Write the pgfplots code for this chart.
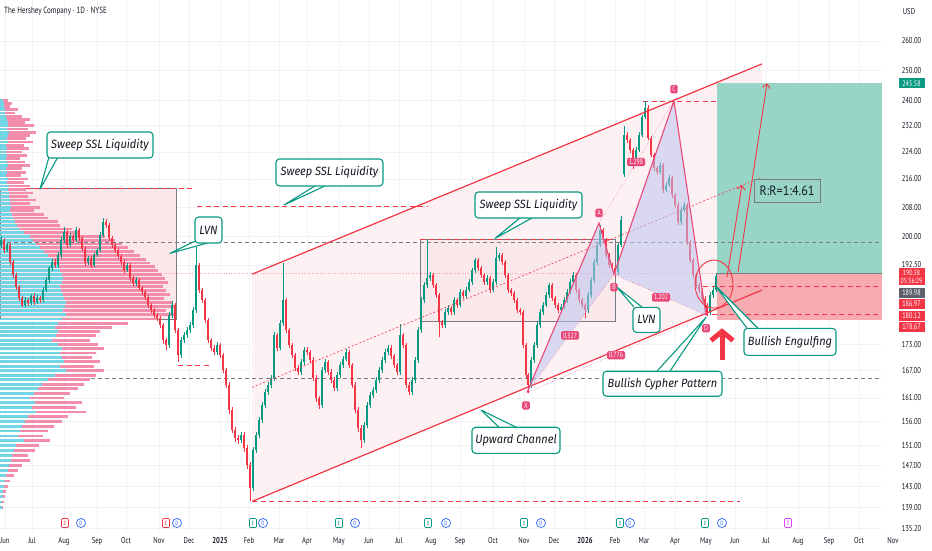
\documentclass[border=0pt]{standalone}
\usepackage{pgfplots}
\pgfplotsset{compat=1.18}
\usepackage{pgfplotstable}
\usetikzlibrary{arrows.meta}
\usepackage{fontspec}
\setmainfont{PT Sans}
\newfontfamily\tvfont[FakeStretch=0.78]{PT Sans}
\newfontfamily\rrfont[FakeStretch=0.9]{PT Sans}
\newfontfamily\callfont[FakeStretch=0.92]{Fira Sans}

\definecolor{upc}{RGB}{8,153,129}
\definecolor{dnc}{RGB}{242,54,69}
\definecolor{vpC}{RGB}{115,214,230}
\definecolor{vpP}{RGB}{244,140,172}
\definecolor{gridc}{RGB}{240,242,246}
\definecolor{grayd}{RGB}{120,123,134}
\definecolor{pat}{RGB}{233,72,120}
\definecolor{patfill}{RGB}{190,196,240}
\definecolor{callC}{RGB}{8,153,129}
\definecolor{tpC}{RGB}{152,213,198}
\definecolor{slC}{RGB}{247,170,175}
\definecolor{chanfill}{RGB}{253,241,243}
\definecolor{boxfill}{RGB}{251,230,234}
\definecolor{txt}{RGB}{19,23,34}
\definecolor{dotp}{RGB}{247,160,176}
\definecolor{evB}{RGB}{41,98,255}
\definecolor{evM}{RGB}{224,64,251}
\definecolor{lblgray}{RGB}{93,96,107}

% candles: x open high low close
\pgfplotstableread{
x o h l c
1 197.7 200.0 197.0 199.0
7 196.3 198.5 195.8 197.7
25 182.4 184.3 181.9 183.6
31 182.9 185.2 182.3 184.6
37 183.1 184.9 182.6 184.1
43 183.6 186.8 183.1 186.1
46 186.1 189.3 185.6 188.6
49 188.6 192.3 188.0 191.6
52 191.6 194.0 190.9 193.2
58 192.4 195.8 191.8 195.0
61 195.0 199.8 194.4 199.0
64 199.0 202.5 198.4 201.2
70 197.7 200.8 197.1 200.0
76 199.0 202.4 198.5 201.7
88 193.2 194.9 192.6 194.2
94 192.4 195.7 191.9 195.0
97 195.0 197.0 194.5 196.3
100 196.3 201.1 195.8 200.3
103 200.3 205.0 199.8 203.8
127 191.1 193.1 190.6 192.4
136 187.8 189.3 187.2 188.6
169 172.8 180.8 172.2 179.9
172 179.9 183.3 179.3 182.4
181 170.5 174.8 169.9 174.0
184 174.0 175.9 173.4 175.1
187 175.1 177.1 174.5 176.3
190 176.3 178.3 175.7 177.5
193 177.5 182.0 176.9 181.1
196 181.1 197.2 180.5 192.4
217 171.2 173.5 170.6 172.8
241 152.1 153.9 151.5 153.1
253 142.6 150.8 142.0 150.1
256 150.1 153.8 149.5 153.1
259 153.1 157.0 152.5 156.3
262 156.3 160.1 155.7 159.4
265 159.4 163.0 158.8 162.3
268 162.3 164.5 161.7 163.8
271 163.8 166.1 163.2 165.4
274 165.4 176.0 164.8 175.1
280 172.2 178.8 171.6 178.0
283 178.0 193.0 177.4 183.6
301 166.7 169.6 166.1 168.9
304 168.9 172.4 168.3 171.7
322 159.4 167.9 158.8 167.1
325 167.1 169.6 166.5 168.9
337 163.1 166.7 162.5 166.0
340 166.0 168.9 165.4 168.2
343 168.2 170.4 167.6 169.7
346 169.7 171.9 169.1 171.2
364 152.1 155.9 151.5 155.2
367 155.2 160.1 154.6 159.4
370 159.4 162.3 158.8 161.6
373 161.6 163.4 161.0 162.7
376 162.7 165.6 162.1 164.9
379 164.9 167.8 164.3 167.1
382 167.1 170.1 166.5 169.4
385 169.4 171.9 168.8 171.2
388 171.2 172.9 170.6 172.2
400 166.7 177.7 166.1 175.1
412 162.3 165.6 161.7 164.9
415 164.9 170.1 164.3 169.4
418 169.4 177.0 168.8 176.3
421 176.3 184.4 175.7 183.6
424 183.6 188.1 183.0 187.3
427 187.3 199.0 186.7 189.1
430 189.1 190.7 188.5 189.9
445 177.5 181.3 176.9 180.6
448 180.6 182.3 180.0 181.6
454 180.6 184.3 180.0 183.6
460 182.4 186.3 181.8 185.6
466 184.6 186.8 184.0 186.1
469 186.1 188.8 185.5 188.1
472 188.1 191.8 187.5 191.1
475 191.1 194.4 190.5 193.7
487 188.1 189.8 187.5 189.1
493 186.1 188.8 185.5 188.1
496 188.1 197.2 187.5 194.2
499 194.2 195.7 193.6 195.0
531 163.8 170.1 163.2 169.4
534 169.4 173.5 168.8 172.8
537 172.8 178.2 172.2 177.5
540 177.5 181.3 176.9 180.6
543 180.6 183.1 180.0 182.4
546 182.4 185.5 181.8 184.8
549 184.8 188.0 184.2 187.3
561 181.1 182.6 180.5 181.9
564 181.9 184.3 181.3 183.6
567 183.6 186.3 183.0 185.6
570 185.6 188.8 185.0 188.1
573 188.1 190.6 187.5 189.9
588 181.1 185.5 180.5 184.8
591 184.8 189.3 184.2 188.6
594 188.6 193.9 188.0 193.2
597 193.2 198.4 192.6 197.7
600 197.7 203.2 197.1 201.7
618 190.6 198.4 190.0 197.7
621 197.7 205.5 197.1 204.4
624 217.5 232.0 216.5 229.2
636 221.0 225.4 220.2 224.6
639 224.6 230.0 224.0 229.2
642 229.2 235.5 228.5 234.7
645 234.7 239.7 234.0 237.7
660 218.0 221.0 217.4 220.1
666 212.8 215.1 212.2 214.3
669 214.3 217.1 213.7 216.3
681 203.8 208.0 203.2 207.2
684 207.2 209.4 206.6 208.6
710 180.6 185.5 180.0 184.8
713 184.8 186.8 184.2 186.1
716 186.1 190.4 185.5 189.6
}\up

\pgfplotstableread{
x o h l c
4 199.0 199.6 195.6 196.3
10 197.7 198.2 192.5 193.2
13 193.2 193.8 189.2 189.9
16 189.9 190.5 186.0 186.8
19 186.8 187.3 183.4 184.1
22 184.1 184.7 181.8 182.4
28 183.6 184.2 182.2 182.9
34 184.6 185.3 182.5 183.1
40 184.1 184.7 182.9 183.6
55 193.2 194.1 191.7 192.4
67 201.2 201.8 197.0 197.7
73 200.0 200.7 198.3 199.0
79 201.7 202.2 198.9 199.5
82 199.5 200.1 196.2 196.8
85 196.8 197.4 192.3 193.2
91 194.2 194.8 191.6 192.4
106 203.8 204.6 202.2 203.0
109 203.0 203.6 198.9 199.5
112 199.5 200.2 197.0 197.7
115 197.7 198.3 195.6 196.3
118 196.3 196.9 194.0 194.7
121 194.7 195.4 192.6 193.2
124 193.2 193.8 190.4 191.1
130 192.4 192.9 188.5 189.1
133 189.1 189.7 187.1 187.8
139 188.6 189.1 186.0 186.6
142 186.6 187.2 184.9 185.6
145 185.6 186.2 183.7 184.3
148 184.3 184.9 181.7 182.4
151 182.4 183.0 180.5 181.1
154 181.1 181.7 179.2 179.9
157 179.9 180.5 178.5 179.2
160 179.2 179.8 176.8 177.5
163 177.5 178.1 173.2 174.0
166 174.0 174.6 171.7 172.8
175 182.4 183.0 175.6 176.3
178 176.3 176.9 169.0 170.5
199 192.4 193.0 185.4 186.1
202 186.1 186.7 182.9 183.6
205 183.6 184.2 178.0 178.7
208 178.7 179.3 173.3 174.0
211 174.0 174.6 171.5 172.2
214 172.2 172.8 170.5 171.2
220 172.8 173.4 169.8 170.5
223 170.5 171.1 166.4 167.1
226 167.1 167.7 163.1 163.8
229 163.8 164.4 157.6 158.4
232 158.4 159.0 153.5 154.2
235 154.2 154.8 151.8 152.5
238 152.5 153.1 151.3 152.1
244 153.1 153.7 149.8 150.5
247 150.5 151.1 146.4 147.1
250 147.1 147.7 140.1 142.6
277 175.1 175.7 171.5 172.2
286 183.6 184.2 175.6 176.3
289 176.3 176.9 172.1 172.8
292 172.8 173.4 169.8 170.5
295 170.5 171.1 166.9 167.6
298 167.6 168.2 166.0 166.7
307 171.7 172.3 170.5 171.2
310 171.2 171.8 168.7 169.4
313 169.4 170.0 164.7 165.4
316 165.4 166.0 160.2 160.9
319 160.9 161.5 158.7 159.4
328 168.9 169.5 166.0 166.7
331 166.7 167.3 164.2 164.9
334 164.9 165.5 162.4 163.1
349 171.2 171.8 167.5 168.2
352 168.2 168.8 163.1 163.8
355 163.8 164.4 157.7 158.4
358 158.4 159.0 153.9 154.6
361 154.6 155.2 150.6 152.1
391 172.2 172.8 169.6 170.3
394 170.3 170.9 167.5 168.2
397 168.2 168.8 166.0 166.7
403 175.1 175.7 172.1 172.8
406 172.8 173.4 163.1 163.8
409 163.8 164.4 161.6 162.3
433 189.9 190.5 186.6 187.3
436 187.3 187.9 184.1 184.8
439 184.8 185.4 174.7 178.2
442 178.2 178.8 176.8 177.5
451 181.6 182.2 179.9 180.6
457 183.6 184.2 181.7 182.4
463 185.6 186.2 183.9 184.6
478 193.7 194.3 190.9 191.6
481 191.6 192.2 189.2 189.9
484 189.9 190.5 187.4 188.1
490 189.1 189.7 185.4 186.1
502 195.0 195.6 192.5 193.2
505 193.2 193.8 189.2 189.9
508 189.9 190.5 185.4 186.1
511 186.1 186.7 184.6 185.3
514 185.3 185.9 182.9 183.6
517 183.6 184.2 180.4 181.1
520 181.1 181.7 179.9 180.6
523 180.6 181.2 172.1 172.8
526 172.8 173.4 165.3 166.0
528 166.0 166.6 162.0 163.8
552 187.3 187.9 183.4 184.1
555 184.1 184.7 181.7 182.4
558 182.4 183.0 180.4 181.1
576 189.9 190.5 185.4 186.1
579 186.1 186.7 182.9 183.6
582 183.6 184.2 181.7 182.4
585 182.4 183.0 179.2 181.1
603 201.7 202.3 198.3 199.0
606 199.0 199.6 194.3 195.0
609 195.0 195.6 191.7 192.4
612 192.4 193.0 190.9 191.6
615 191.6 192.2 189.4 190.6
627 229.2 230.0 226.8 227.6
630 227.6 228.3 223.7 224.6
633 224.6 225.3 219.0 221.0
648 237.7 238.4 227.5 228.2
651 228.2 228.9 222.4 223.1
654 223.1 223.8 218.4 219.2
657 219.2 219.9 217.2 218.0
663 220.1 220.8 212.0 212.8
672 216.3 217.0 210.7 211.4
675 211.4 212.1 207.9 208.6
678 208.6 209.3 203.1 203.8
687 208.6 209.2 197.8 198.5
690 198.5 199.1 193.0 193.7
693 193.7 194.3 189.2 189.9
696 189.9 190.5 186.6 187.3
699 187.3 187.9 185.4 186.1
702 186.1 186.7 183.2 183.9
705 183.9 184.5 181.7 182.4
707 182.4 183.0 179.7 180.6
}\dn

% volume profile: price, total width, up width
\pgfplotstableread{
p t u
240 8 3
239 12 4
238 10 4
237 18 5
236 15 5
235 22 6
234 30 7
233 25 8
232 34 8
231 28 7
230 36 9
229 30 8
228 26 7
227 33 8
226 24 6
225 29 7
224 22 6
223 27 7
222 20 6
221 25 7
220 30 8
219 22 6
218 26 7
217 21 6
216 28 8
215 24 7
214 30 9
213 26 8
212 33 9
211 28 9
210 36 10
209 30 10
208 40 11
207 34 10
206 44 12
205 48 13
204 58 15
203 60 17
202 72 20
201 80 24
200 105 30
199 115 33
198 122 36
197 128 40
196 134 44
195 140 48
194 146 52
193 150 55
192 155 58
191 158 60
190 162 62
189 165 63
188 168 62
187 163 60
186 166 61
185 170 63
184 164 64
183 172 66
182 175 65
181 166 63
180 174 66
179 158 62
178 128 58
177 112 55
176 100 58
175 96 56
174 90 52
173 98 58
172 104 62
171 96 60
170 92 62
169 100 64
168 94 60
167 104 66
166 96 55
165 90 48
164 84 42
163 78 38
162 70 34
161 64 30
160 82 35
159 76 32
158 86 36
157 68 28
156 62 25
155 54 22
154 48 20
153 43 18
152 50 24
151 39 16
150 35 14
149 28 12
148 30 11
147 22 9
146 18 8
145 14 6
144 10 5
143 8 4
142 6 3
141 5 3
140 4 2
139 3 2
}\vp

\tikzset{
  callbox/.style={draw=callC, fill=white, line width=1.1pt, rounded corners=3.5pt, inner sep=0pt,
    font=\callfont\itshape\fontsize{12}{13}\selectfont, text=txt},
  wedge/.style={fill=white, draw=callC, line width=1.1pt, line join=round},
  patlab/.style={fill=pat, text=white, rounded corners=1.5pt, inner xsep=2pt, inner ysep=1.5pt,
    font=\tvfont\fontsize{7.5}{8}\selectfont},
  plab/.style={fill=dnc, text=white, minimum width=26pt, minimum height=10pt, inner sep=0pt,
    font=\tvfont\fontsize{8}{9}\selectfont}
}
\pgfplotsset{
  nomark/.style={only marks, mark=*, mark size=0pt, mark options={draw=none, fill=none}}
}

\begin{document}
\begin{tikzpicture}
\useasboundingbox (0pt,0pt) rectangle (932pt,550pt);
\fill[white] (0pt,0pt) rectangle (932pt,550pt);
\begin{axis}[
  at={(0pt,17pt)}, anchor=south west,
  width=882pt, height=533pt, scale only axis,
  xmin=0, xmax=882, ymode=log, ymin=134.31, ymax=274.7,
  axis line style={draw=none},
  major tick length=0pt,
  xtick={5,32,64,97,126,159,189,220,249,279,307,339,369,399,431,460,493,524,554,585,615,644,675,706,735,766,798,829,859},
  xticklabels={Jun,Jul,Aug,Sep,Oct,Nov,Dec,\textbf{2025},Feb,Mar,Apr,May,Jun,Jul,Aug,Sep,Oct,Nov,Dec,\textbf{2026},Feb,Mar,Apr,May,Jun,Jul,Aug,Sep,Oct},
  ytick={135.2,139,143,147,151,156,161,167,173,192.5,200,208,216,224,232,240,250,260},
  yticklabels={135.20,139.00,143.00,147.00,151.00,156.00,161.00,167.00,173.00,192.50,200.00,208.00,216.00,224.00,232.00,240.00,250.00,260.00},
  yticklabel pos=right,
  xmajorgrids, ymajorgrids, grid style={gridc, line width=0.6pt},
  tick label style={font=\tvfont\fontsize{8.5}{10}\selectfont, text=txt, inner sep=0pt},
  xticklabel style={anchor=center, yshift=-8pt},
  yticklabel style={anchor=center, xshift=29.5pt},
  clip=true,
]
% channel fill
\addplot[fill=chanfill, draw=none] coordinates {(252,190.1) (762,252.1) (762,186.1) (252,140.1)} -- cycle;
% left and middle boxes
\addplot[fill=boxfill, draw=grayd, line width=0.6pt] coordinates {(0,213.2) (176,213.2) (176,178.9) (0,178.9)} -- cycle;
\addplot[fill=boxfill, fill opacity=0.8, draw=grayd, line width=0.6pt] coordinates {(420,199.2) (615,199.2) (615,178.4) (420,178.4)} -- cycle;
% position tool
\addplot[fill=tpC, draw=none] coordinates {(717,190.38) (882,190.38) (882,245.58) (717,245.58)} -- cycle;
\addplot[fill=slC, draw=none] coordinates {(717,178.67) (882,178.67) (882,190.38) (717,190.38)} -- cycle;
\addplot[grayd, line width=0.6pt] coordinates {(717,190.38) (882,190.38)};
% horizontal levels
\addplot[grayd, line width=0.8pt, dash pattern=on 4pt off 3pt] coordinates {(0,198.3) (882,198.3)};
\addplot[grayd, line width=0.8pt, dash pattern=on 4pt off 3pt] coordinates {(0,165.2) (882,165.2)};
\addplot[dotp, line width=0.6pt, dotted] coordinates {(0,190.4) (717,190.4)};
\addplot[dnc, line width=0.9pt, dash pattern=on 5pt off 3.5pt] coordinates {(0,213.2) (195,213.2)};
\addplot[dnc, line width=0.9pt, dash pattern=on 5pt off 3.5pt] coordinates {(0,178.9) (147,178.9)};
\addplot[dnc, line width=0.9pt, dash pattern=on 5pt off 3.5pt] coordinates {(197,208.3) (427,208.3)};
\addplot[dnc, line width=0.9pt, dash pattern=on 5pt off 3.5pt] coordinates {(178,168.1) (210,168.1)};
\addplot[dnc, line width=0.9pt, dash pattern=on 5pt off 3.5pt] coordinates {(420,199.2) (615,199.2)};
\addplot[dnc, line width=0.9pt, dash pattern=on 5pt off 3.5pt] coordinates {(252,140.2) (740,140.2)};
\addplot[dnc, line width=0.9pt, dash pattern=on 5pt off 3.5pt] coordinates {(643,239.6) (717,239.6)};
\addplot[dnc, line width=0.9pt, dash pattern=on 5pt off 3.5pt] coordinates {(703,186.97) (882,186.97)};
\addplot[dnc, line width=0.9pt, dash pattern=on 5pt off 3.5pt] coordinates {(703,180.12) (882,180.12)};
% volume profile
\addplot[nomark, error bars/.cd, x dir=plus, x explicit, error mark=none,
  error bar style={line width=2.8pt, draw=vpP}] table[x expr=0, y=p, x error=t] {\vp};
\addplot[nomark, error bars/.cd, x dir=plus, x explicit, error mark=none,
  error bar style={line width=2.8pt, draw=vpC}] table[x expr=0, y=p, x error=u] {\vp};
% candles
\addplot[nomark, error bars/.cd, y dir=plus, y explicit, error mark=none,
  error bar style={line width=0.6pt, draw=upc}] table[x=x, y=l, y error plus expr=\thisrow{h}-\thisrow{l}] {\up};
\addplot[nomark, error bars/.cd, y dir=plus, y explicit, error mark=none,
  error bar style={line width=2.1pt, draw=upc}] table[x=x, y=o, y error plus expr=\thisrow{c}-\thisrow{o}] {\up};
\addplot[nomark, error bars/.cd, y dir=plus, y explicit, error mark=none,
  error bar style={line width=0.6pt, draw=dnc}] table[x=x, y=l, y error plus expr=\thisrow{h}-\thisrow{l}] {\dn};
\addplot[nomark, error bars/.cd, y dir=plus, y explicit, error mark=none,
  error bar style={line width=2.1pt, draw=dnc}] table[x=x, y=c, y error plus expr=\thisrow{o}-\thisrow{c}] {\dn};
% channel lines
\addplot[dnc, line width=1.2pt] coordinates {(252,190.1) (762,252.1)};
\addplot[dnc, line width=1.2pt] coordinates {(252,140.1) (762,186.1)};
\addplot[dnc, line width=0.6pt, dash pattern=on 2pt off 2pt] coordinates {(252,163.3) (762,216.6)};
% cypher pattern
\addplot[fill=patfill, fill opacity=0.55, draw=none] coordinates {(527,162.2) (599,203.6) (614,190.1)} -- cycle;
\addplot[fill=patfill, fill opacity=0.55, draw=none] coordinates {(614,190.1) (674,239.9) (706,179.9)} -- cycle;
\addplot[pat, line width=0.5pt, dotted] coordinates {(527,162.2) (614,190.1)};
\addplot[pat, line width=0.5pt, dotted] coordinates {(599,203.6) (674,239.9)};
\addplot[pat, line width=0.5pt, dotted] coordinates {(614,190.1) (706,179.9)};
\addplot[pat, line width=0.5pt, dotted] coordinates {(527,162.2) (706,179.9)};
\addplot[pat, line width=1.1pt] coordinates {(527,162.2) (599,203.6) (614,190.1) (674,239.9) (706,179.9)};
\node[patlab] at (axis cs:570,175.1) {0.327};
\node[patlab] at (axis cs:636,221.0) {1.298};
\node[patlab] at (axis cs:661,184.3) {1.202};
\node[patlab] at (axis cs:616,170.5) {0.776};
\node[patlab] at (axis cs:526,159.4) {X};
\node[patlab] at (axis cs:599,206.4) {A};
\node[patlab] at (axis cs:614,186.8) {B};
\node[patlab] at (axis cs:674,243.7) {C};
\node[patlab] at (axis cs:706,176.8) {D};
% arrows and circle
\draw[dnc, line width=0.9pt, -{Straight Barb[length=4pt,width=8pt]}] (axis cs:727,189.4) -- (axis cs:742,214.3);
\draw[dnc, line width=0.9pt, -{Straight Barb[length=4pt,width=8pt]}] (axis cs:738,190.6) -- (axis cs:767,245.6);
\draw[dnc, line width=0.9pt] (axis cs:714,187.6) ellipse [x radius=19pt, y radius=24pt];
\draw[dnc, line width=5pt, -{Straight Barb[length=9pt,width=22pt]}] (axis cs:722,169.4) -- (axis cs:722,176.8);
% R:R label
\node[draw=grayd, line width=0.8pt, minimum width=66pt, minimum height=23pt, inner sep=0pt,
  font=\rrfont\fontsize{13.5}{14}\selectfont, text=txt] at (axis cs:787,212.7) {R:R=1:4.61};
% callouts
\filldraw[wedge] (axis cs:49,222.5) -- (axis cs:40,213.1) -- (axis cs:58,222.5);
\node[callbox, minimum width=106pt, minimum height=26pt] at (axis cs:100,226.1) {Sweep SSL Liquidity};
\filldraw[wedge] (axis cs:197,199.0) -- (axis cs:170,195.5) -- (axis cs:207,198.2);
\node[callbox, minimum width=27pt, minimum height=26pt] at (axis cs:208.5,201.7) {LVN};
\filldraw[wedge] (axis cs:315,214.0) -- (axis cs:284,208.6) -- (axis cs:325,214.0);
\node[callbox, minimum width=107pt, minimum height=27pt] at (axis cs:329.5,217.9) {Sweep SSL Liquidity};
\filldraw[wedge] (axis cs:520,205.0) -- (axis cs:495,199.5) -- (axis cs:532,205.0);
\node[callbox, minimum width=107pt, minimum height=26pt] at (axis cs:528.5,208.6) {Sweep SSL Liquidity};
\filldraw[wedge] (axis cs:634,181.9) -- (axis cs:617,186.8) -- (axis cs:642,181.9);
\node[callbox, minimum width=27pt, minimum height=25pt] at (axis cs:646.5,178.8) {LVN};
\filldraw[wedge] (axis cs:500,154.6) -- (axis cs:481,158.4) -- (axis cs:518,154.6);
\node[callbox, minimum width=88pt, minimum height=26pt] at (axis cs:516,152.1) {Upward Channel};
\filldraw[wedge] (axis cs:657,166.9) -- (axis cs:706,179.4) -- (axis cs:670,166.9);
\node[callbox, minimum width=119pt, minimum height=25pt] at (axis cs:662.5,164.1) {Bullish Cypher Pattern};
\filldraw[wedge] (axis cs:747,176.8) -- (axis cs:715,187.3) -- (axis cs:758,176.8);
\node[callbox, minimum width=92pt, minimum height=27pt] at (axis cs:790,173.6) {Bullish Engulfing};
\end{axis}
% title and scale texts
\node[anchor=west, font=\tvfont\fontsize{9}{10}\selectfont, text=txt, inner sep=0pt] at (4pt,538.5pt) {The Hershey Company · 1D · NYSE};
\node[font=\tvfont\fontsize{8.5}{9}\selectfont, text=txt, inner sep=0pt] at (909pt,538pt) {USD};
\node[font=\tvfont\fontsize{8.5}{9}\selectfont, text=txt, inner sep=0pt] at (893pt,9pt) {Nov};
% price labels on the scale
\node[plab, fill=upc] at (911.5pt,466.5pt) {245.58};
\node[plab, minimum height=17pt, align=center, font=\tvfont\fontsize{7.5}{8}\selectfont] at (911.5pt,273.5pt) {190.38\\05:36:29};
\node[plab, fill=lblgray] at (911.5pt,257.5pt) {189.98};
\node[plab] at (911.5pt,246pt) {186.97};
\node[plab] at (911.5pt,234.5pt) {180.12};
\node[plab] at (911.5pt,223.5pt) {178.67};
% events row
\foreach \ex/\ec in {65/dnc,166/dnc,253/upc,339/upc,428/upc,524/upc,620/upc,705/upc,788/evM} {
  \node[draw=\ec, text=\ec, fill=white, rounded corners=1pt, minimum width=7pt, minimum height=9pt, inner sep=0pt,
    line width=0.6pt, font=\tvfont\fontsize{6}{6}\selectfont] at (\ex pt,27pt) {E};
}
\foreach \dx in {81,177,263,355,446,541,630,722} {
  \node[circle, draw=evB, text=evB, fill=white, minimum size=9pt, inner sep=0pt, line width=0.7pt,
    font=\tvfont\fontsize{6}{6}\selectfont] at (\dx pt,27pt) {D};
}
\end{tikzpicture}
\end{document}
